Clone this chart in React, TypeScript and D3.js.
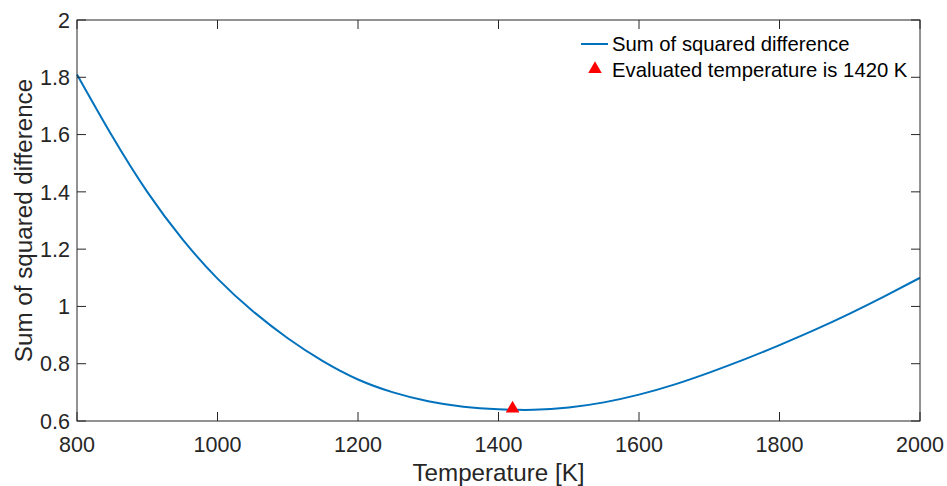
import React from "react";
import * as d3 from "d3";

const temperatures = [800, 850, 900, 950, 1000, 1050, 1100, 1150, 1200, 1250, 1300, 1350, 1400, 1450, 1500, 1550, 1600, 1650, 1700, 1750, 1800, 1850, 1900, 1950, 2000];
const sumSquaredDiff = [1.81, 1.595, 1.4, 1.235, 1.097, 0.984, 0.889, 0.809, 0.745, 0.7, 0.669, 0.65, 0.641, 0.639, 0.647, 0.665, 0.692, 0.727, 0.769, 0.815, 0.865, 0.918, 0.975, 1.036, 1.1];
const evaluatedT = [1420];
const evaluatedV = [0.64];
const xTicks = [800, 1000, 1200, 1400, 1600, 1800, 2000];
const yTicks = [0.6, 0.8, 1, 1.2, 1.4, 1.6, 1.8, 2];
const legendLabels = ["Sum of squared difference", "Evaluated temperature is 1420 K"];

const W = 947, H = 486;
const L = 77, R = 920, T = 20, B = 421;
const FONT = "'Liberation Sans', Arial, Helvetica, sans-serif";
const AX = "#262626";
const BLUE = "#0072BD";

export default function App() {
  const x = d3.scaleLinear().domain([800, 2000]).range([L, R]);
  const y = d3.scaleLinear().domain([0.6, 2]).range([B, T]);
  const pts = temperatures.map((t, i) => [t, sumSquaredDiff[i]] as [number, number]);
  const line = d3.line<[number, number]>().x(d => x(d[0])).y(d => y(d[1])).curve(d3.curveNatural);
  const tri = d3.symbol().type(d3.symbolTriangle).size(80)();
  const tickLen = 9;
  return (
    <svg width={W} height={H} style={{ position: "absolute", left: 0, top: 0, background: "#fff" }} fontFamily={FONT}>
      <rect x={0} y={0} width={W} height={H} fill="#fff" />
      <path d={line(pts) || ""} fill="none" stroke={BLUE} strokeWidth={2} />
      {evaluatedT.map((t, i) => (
        <path key={i} d={tri || ""} transform={`translate(${x(t)},${y(evaluatedV[i]) - 1})`} fill="#FF0000" />
      ))}
      <rect x={L} y={T} width={R - L} height={B - T} fill="none" stroke={AX} strokeWidth={1} />
      {xTicks.map(t => (
        <g key={"x" + t}>
          <line x1={x(t)} x2={x(t)} y1={B} y2={B - tickLen} stroke={AX} />
          <line x1={x(t)} x2={x(t)} y1={T} y2={T + tickLen} stroke={AX} />
          <text x={x(t)} y={452} textAnchor="middle" fontSize={21.5} fill={AX}>{t}</text>
        </g>
      ))}
      {yTicks.map(v => (
        <g key={"y" + v}>
          <line x1={L} x2={L + tickLen} y1={y(v)} y2={y(v)} stroke={AX} />
          <line x1={R} x2={R - tickLen} y1={y(v)} y2={y(v)} stroke={AX} />
          <text x={70} y={y(v)} dy="0.36em" textAnchor="end" fontSize={21.5} fill={AX}>{String(v)}</text>
        </g>
      ))}
      <text x={(L + R) / 2} y={481} textAnchor="middle" fontSize={24.2} fill={AX}>Temperature [K]</text>
      <text transform={`translate(32,${(T + B) / 2}) rotate(-90)`} textAnchor="middle" fontSize={24.2} fill={AX}>Sum of squared difference</text>
      <line x1={581} x2={608} y1={44} y2={44} stroke={BLUE} strokeWidth={2} />
      <text x={612} y={44} dy="0.36em" fontSize={20.3} fill="#000">{legendLabels[0]}</text>
      <path d={tri || ""} transform={`translate(595,69)`} fill="#FF0000" />
      <text x={612} y={70} dy="0.36em" fontSize={20.3} fill="#000">{legendLabels[1]}</text>
    </svg>
  );
}
